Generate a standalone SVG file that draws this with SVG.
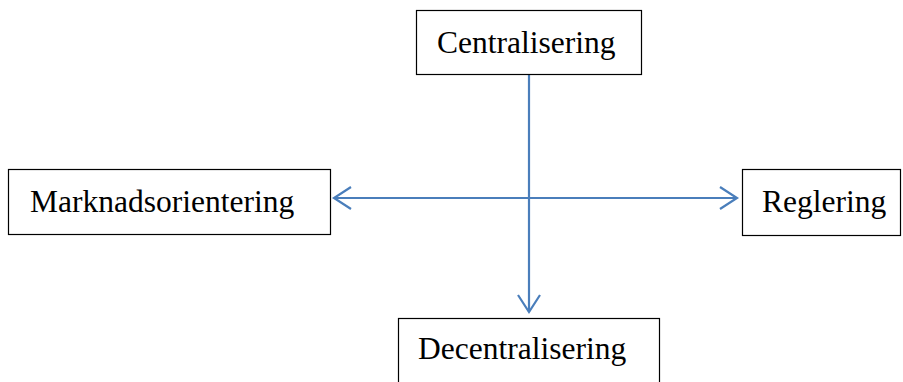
<svg xmlns="http://www.w3.org/2000/svg" width="903" height="382" viewBox="0 0 903 382">
<style>
.box{fill:#fff;stroke:#000;stroke-width:1.2}
.lbl{font-family:"Liberation Serif","Times New Roman",serif;font-size:31.5px;fill:#000}
.con{fill:none;stroke:#4a7ebb;stroke-width:2.2}
</style>
<rect width="903" height="382" fill="#fff"/>
<g id="connectors">
<path class="con" d="M529 74V312"/>
<path class="con" d="M518 295L529 312L540 295"/>
<path class="con" d="M334 198H737"/>
<path class="con" d="M351 187L334 198L351 209"/>
<path class="con" d="M720 187L737 198L720 209"/>
</g>
<g id="centralisering">
<rect class="box" x="416.5" y="10.5" width="225" height="64"/>
<text class="lbl" x="437" y="53">Centralisering</text>
</g>
<g id="marknadsorientering">
<rect class="box" x="8.5" y="169.5" width="322" height="65"/>
<text class="lbl" x="30" y="212">Marknadsorientering</text>
</g>
<g id="reglering">
<rect class="box" x="742.5" y="169.5" width="158" height="66"/>
<text class="lbl" x="762" y="212">Reglering</text>
</g>
<g id="decentralisering">
<rect class="box" x="398.5" y="318.5" width="261" height="70"/>
<text class="lbl" x="418" y="359">Decentralisering</text>
</g>
</svg>
